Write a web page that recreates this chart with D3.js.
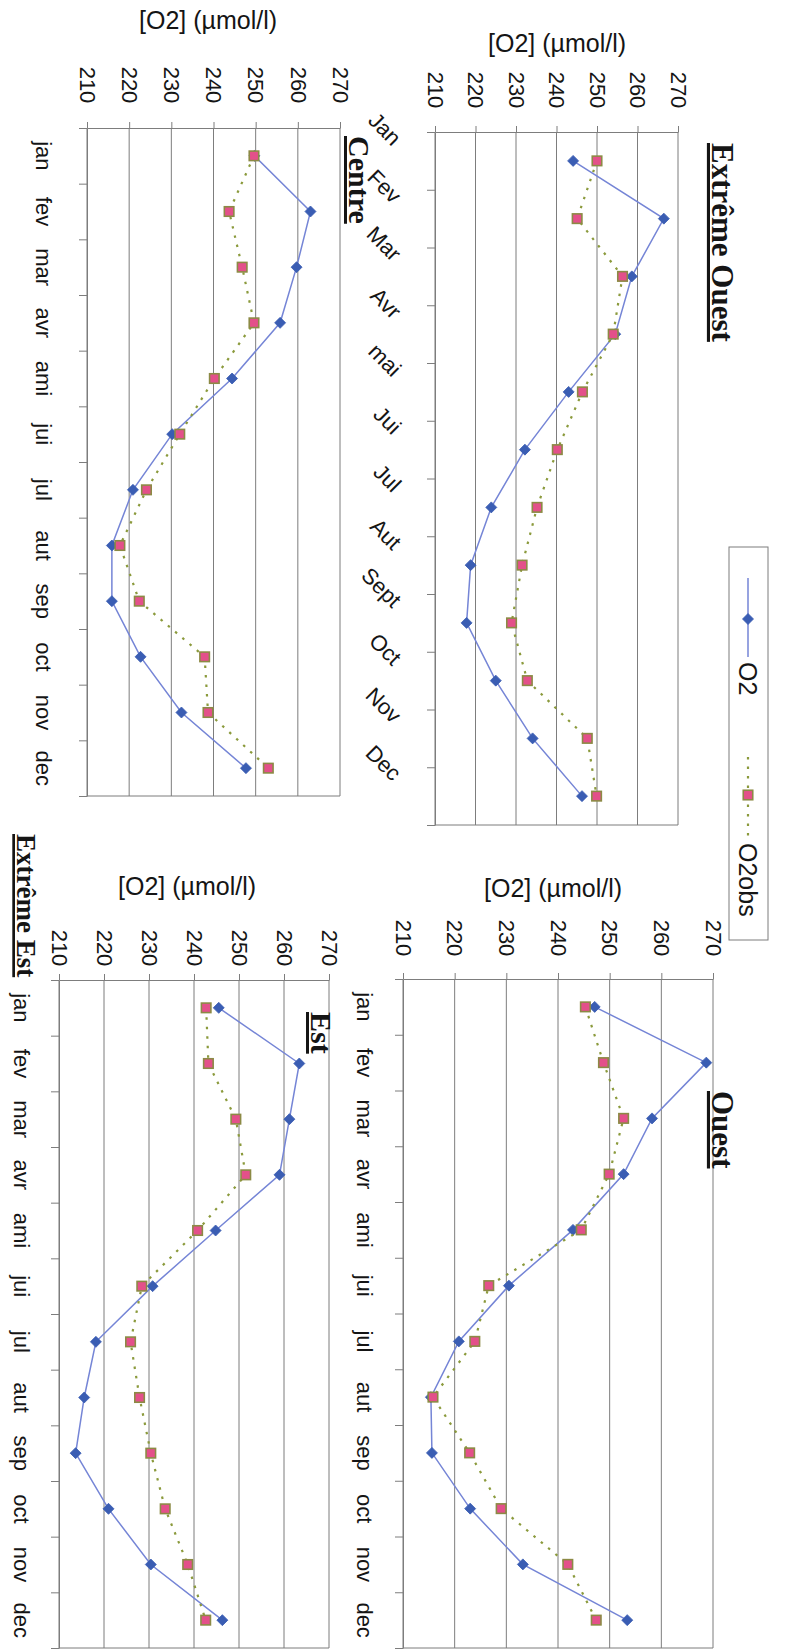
<!DOCTYPE html>
<html><head><meta charset="utf-8">
<script src="https://cdn.jsdelivr.net/npm/d3@7"></script>
<style>body{margin:0;background:#fff}svg{display:block}</style>
</head><body>
<svg id="c" width="788" height="1649"></svg>
<script>
// ---- data ----
const months = ["jan","fev","mar","avr","ami","jui","jul","aut","sep","oct","nov","dec"];
const monthsSlant = ["Jan","Fev","Mar","Avr","mai","Jui","Jul","Aut","Sept","Oct","Nov","Dec"];
const valueTicks = [210,220,230,240,250,260,270];
const axisTitle = "[O2] (µmol/l)";
const seriesNames = ["O2","O2obs"];

const centreO2   = [249.7, 263.0, 259.7, 255.8, 244.4, 230.2, 220.9, 215.9, 215.9, 222.7, 232.4, 247.7];
const centreObs  = [249.6, 243.7, 246.8, 249.6, 240.2, 232.0, 224.1, 217.8, 222.4, 237.9, 238.7, 253.0];
const extOuestO2 = [244.1, 266.5, 258.6, 254.5, 243.0, 232.2, 223.9, 218.8, 217.8, 225.0, 234.1, 246.3];
const extOuestObs= [250.0, 245.1, 256.3, 254.0, 246.4, 240.2, 235.2, 231.5, 228.9, 232.8, 247.6, 249.9];
const estO2      = [245.5, 263.4, 261.2, 259.0, 244.8, 230.8, 218.2, 215.6, 213.7, 221.0, 230.4, 246.3];
const estObs     = [242.7, 243.2, 249.3, 251.5, 240.8, 228.4, 225.9, 227.9, 230.4, 233.6, 238.6, 242.6];
const ouestO2    = [247.1, 268.7, 258.2, 252.7, 242.9, 230.5, 220.8, 215.4, 215.6, 223.0, 233.2, 253.4];
const ouestObs   = [245.3, 248.8, 252.7, 249.9, 244.5, 226.6, 223.9, 215.8, 222.9, 229.0, 241.9, 247.4];

// ---- layout ----
const panels = [
  {o2:centreO2, obs:centreObs, x0:87, x1:340, top:128, bottom:796, tickY:85, titleX:208, titleY:20, cat:"lower", catX:44},
  {o2:extOuestO2, obs:extOuestObs, x0:435, x1:678, top:132, bottom:825, tickY:90, titleX:557, titleY:43, cat:"slant", catX:392},
  {o2:estO2, obs:estObs, x0:59, x1:329, top:980, bottom:1648, tickY:948, titleX:187, titleY:886, cat:"lower", catX:22},
  {o2:ouestO2, obs:ouestObs, x0:403, x1:713, top:979, bottom:1648, tickY:938, titleX:553, titleY:888, cat:"lower", catX:365}
];
const regionTitles = [
  {t:"Centre", x:349, y:136, fs:30},
  {t:"Extrême Ouest", x:712, y:143, fs:31},
  {t:"Est", x:311, y:1012, fs:30},
  {t:"Extrême Est", x:17, y:834, fs:27},
  {t:"Ouest", x:712, y:1091, fs:31}
];

const SANS = "'Liberation Sans', Arial, sans-serif";
const SERIF = "'Liberation Serif', 'Times New Roman', serif";
const GRID = "#7d7d7d", TXT = "#151515";
const BLUE_LINE = "#7585d6", BLUE_MK = "#3a5db3";
const OBS_LINE = "#8b9a3c", OBS_FILL = "#e3508a", OBS_STROKE = "#8c8a45";

const svg = d3.select("#c");
svg.append("rect").attr("width",788).attr("height",1649).attr("fill","#fff");

function diamond(g, cx, cy, r){
  g.append("path").attr("d",`M${cx},${cy-r}L${cx+r},${cy}L${cx},${cy+r}L${cx-r},${cy}Z`)
   .attr("fill",BLUE_MK).attr("stroke",BLUE_MK).attr("stroke-width",0.8);
}
function square(g, cx, cy, s){
  g.append("rect").attr("x",cx-s/2).attr("y",cy-s/2).attr("width",s).attr("height",s)
   .attr("fill",OBS_FILL).attr("stroke",OBS_STROKE).attr("stroke-width",1.6);
}

panels.forEach(p => {
  const g = svg.append("g");
  const x = d3.scaleLinear().domain([210,270]).range([p.x0,p.x1]);
  const y = d3.scaleBand().domain(months).range([p.top,p.bottom]).padding(0);
  const yc = m => y(m) + y.bandwidth()/2;
  const yb = d3.scaleLinear().domain([0,12]).range([p.top,p.bottom]);

  // vertical gridlines
  g.selectAll("line.grid").data(valueTicks).join("line").attr("class","grid")
    .attr("x1",d=>x(d)).attr("x2",d=>x(d)).attr("y1",p.top).attr("y2",p.bottom)
    .attr("stroke",GRID).attr("stroke-width",1);
  // bottom border
  g.append("line").attr("x1",p.x0).attr("x2",p.x1).attr("y1",p.bottom).attr("y2",p.bottom)
    .attr("stroke",GRID).attr("stroke-width",1);

  // value axis (top)
  const ax = g.append("g").attr("transform",`translate(0,${p.top})`)
    .call(d3.axisTop(x).tickValues(valueTicks).tickSize(6).tickSizeOuter(0).tickFormat(d3.format("d")));
  ax.select(".domain").attr("stroke",GRID);
  ax.selectAll(".tick line").attr("stroke",GRID);
  ax.selectAll(".tick text")
    .attr("transform",`translate(0,${p.tickY-p.top}) rotate(90)`)
    .attr("x",0).attr("y",0).attr("dy","0.35em").attr("text-anchor","middle")
    .attr("font-family",SANS).attr("font-size",22).attr("fill",TXT);

  // category axis (left), ticks between categories
  const cx = g.append("g").attr("transform",`translate(${p.x0},0)`)
    .call(d3.axisLeft(yb).tickValues(d3.range(13)).tickSize(8).tickSizeOuter(0).tickFormat(""));
  cx.select(".domain").attr("stroke",GRID);
  cx.selectAll(".tick line").attr("stroke",GRID);

  // category labels
  if (p.cat === "lower") {
    g.selectAll("text.cat").data(months).join("text").attr("class","cat")
      .attr("transform",d=>`translate(${p.catX},${yc(d)}) rotate(90)`)
      .attr("text-anchor","middle").attr("dy","0.35em")
      .attr("font-family",SANS).attr("font-size",22).attr("fill",TXT).text(d=>d);
  } else {
    g.selectAll("text.cat").data(months).join("text").attr("class","cat")
      .attr("transform",(d)=>`translate(${p.catX},${yc(d)-14}) rotate(45)`)
      .attr("text-anchor","end")
      .attr("font-family",SANS).attr("font-size",22).attr("fill",TXT)
      .text((d,i)=>monthsSlant[i]);
  }

  // axis title
  g.append("text").attr("x",p.titleX).attr("y",p.titleY).attr("dy","0.35em")
    .attr("text-anchor","middle").attr("font-family",SANS).attr("font-size",25).attr("fill",TXT)
    .text(axisTitle);

  // series
  const line = d3.line().x(d=>x(d.v)).y(d=>yc(d.m));
  const o2 = months.map((m,i)=>({m, v:p.o2[i]}));
  const obs = months.map((m,i)=>({m, v:p.obs[i]}));
  g.append("path").datum(o2).attr("d",line).attr("fill","none")
    .attr("stroke",BLUE_LINE).attr("stroke-width",1.5);
  o2.forEach(d=>diamond(g, x(d.v), yc(d.m), 5.5));
  g.append("path").datum(obs).attr("d",line).attr("fill","none")
    .attr("stroke",OBS_LINE).attr("stroke-width",2.2).attr("stroke-dasharray","2.5,7");
  obs.forEach(d=>square(g, x(d.v), yc(d.m), 9.5));
});

// region titles
regionTitles.forEach(r => {
  svg.append("text").attr("transform",`translate(${r.x},${r.y}) rotate(90)`)
    .attr("text-anchor","start").attr("font-family",SERIF).attr("font-weight","bold")
    .attr("font-size",r.fs).attr("fill",TXT).style("text-decoration","underline")
    .text(r.t);
});

// legend
const lg = svg.append("g");
lg.append("rect").attr("x",729).attr("y",547).attr("width",39).attr("height",393)
  .attr("fill","#fff").attr("stroke",GRID).attr("stroke-width",1);
lg.append("line").attr("x1",748).attr("x2",748).attr("y1",578).attr("y2",657)
  .attr("stroke",BLUE_LINE).attr("stroke-width",1.5);
diamond(lg, 748, 619, 5.5);
lg.append("text").attr("transform","translate(748,662) rotate(90)").attr("dy","0.35em")
  .attr("font-family",SANS).attr("font-size",25).attr("fill",TXT).text(seriesNames[0]);
lg.append("line").attr("x1",748).attr("x2",748).attr("y1",757).attr("y2",836)
  .attr("stroke",OBS_LINE).attr("stroke-width",2.2).attr("stroke-dasharray","2.5,7");
square(lg, 748, 795, 9.5);
lg.append("text").attr("transform","translate(748,843) rotate(90)").attr("dy","0.35em")
  .attr("font-family",SANS).attr("font-size",25).attr("fill",TXT).text(seriesNames[1]);
</script>
</body></html>
